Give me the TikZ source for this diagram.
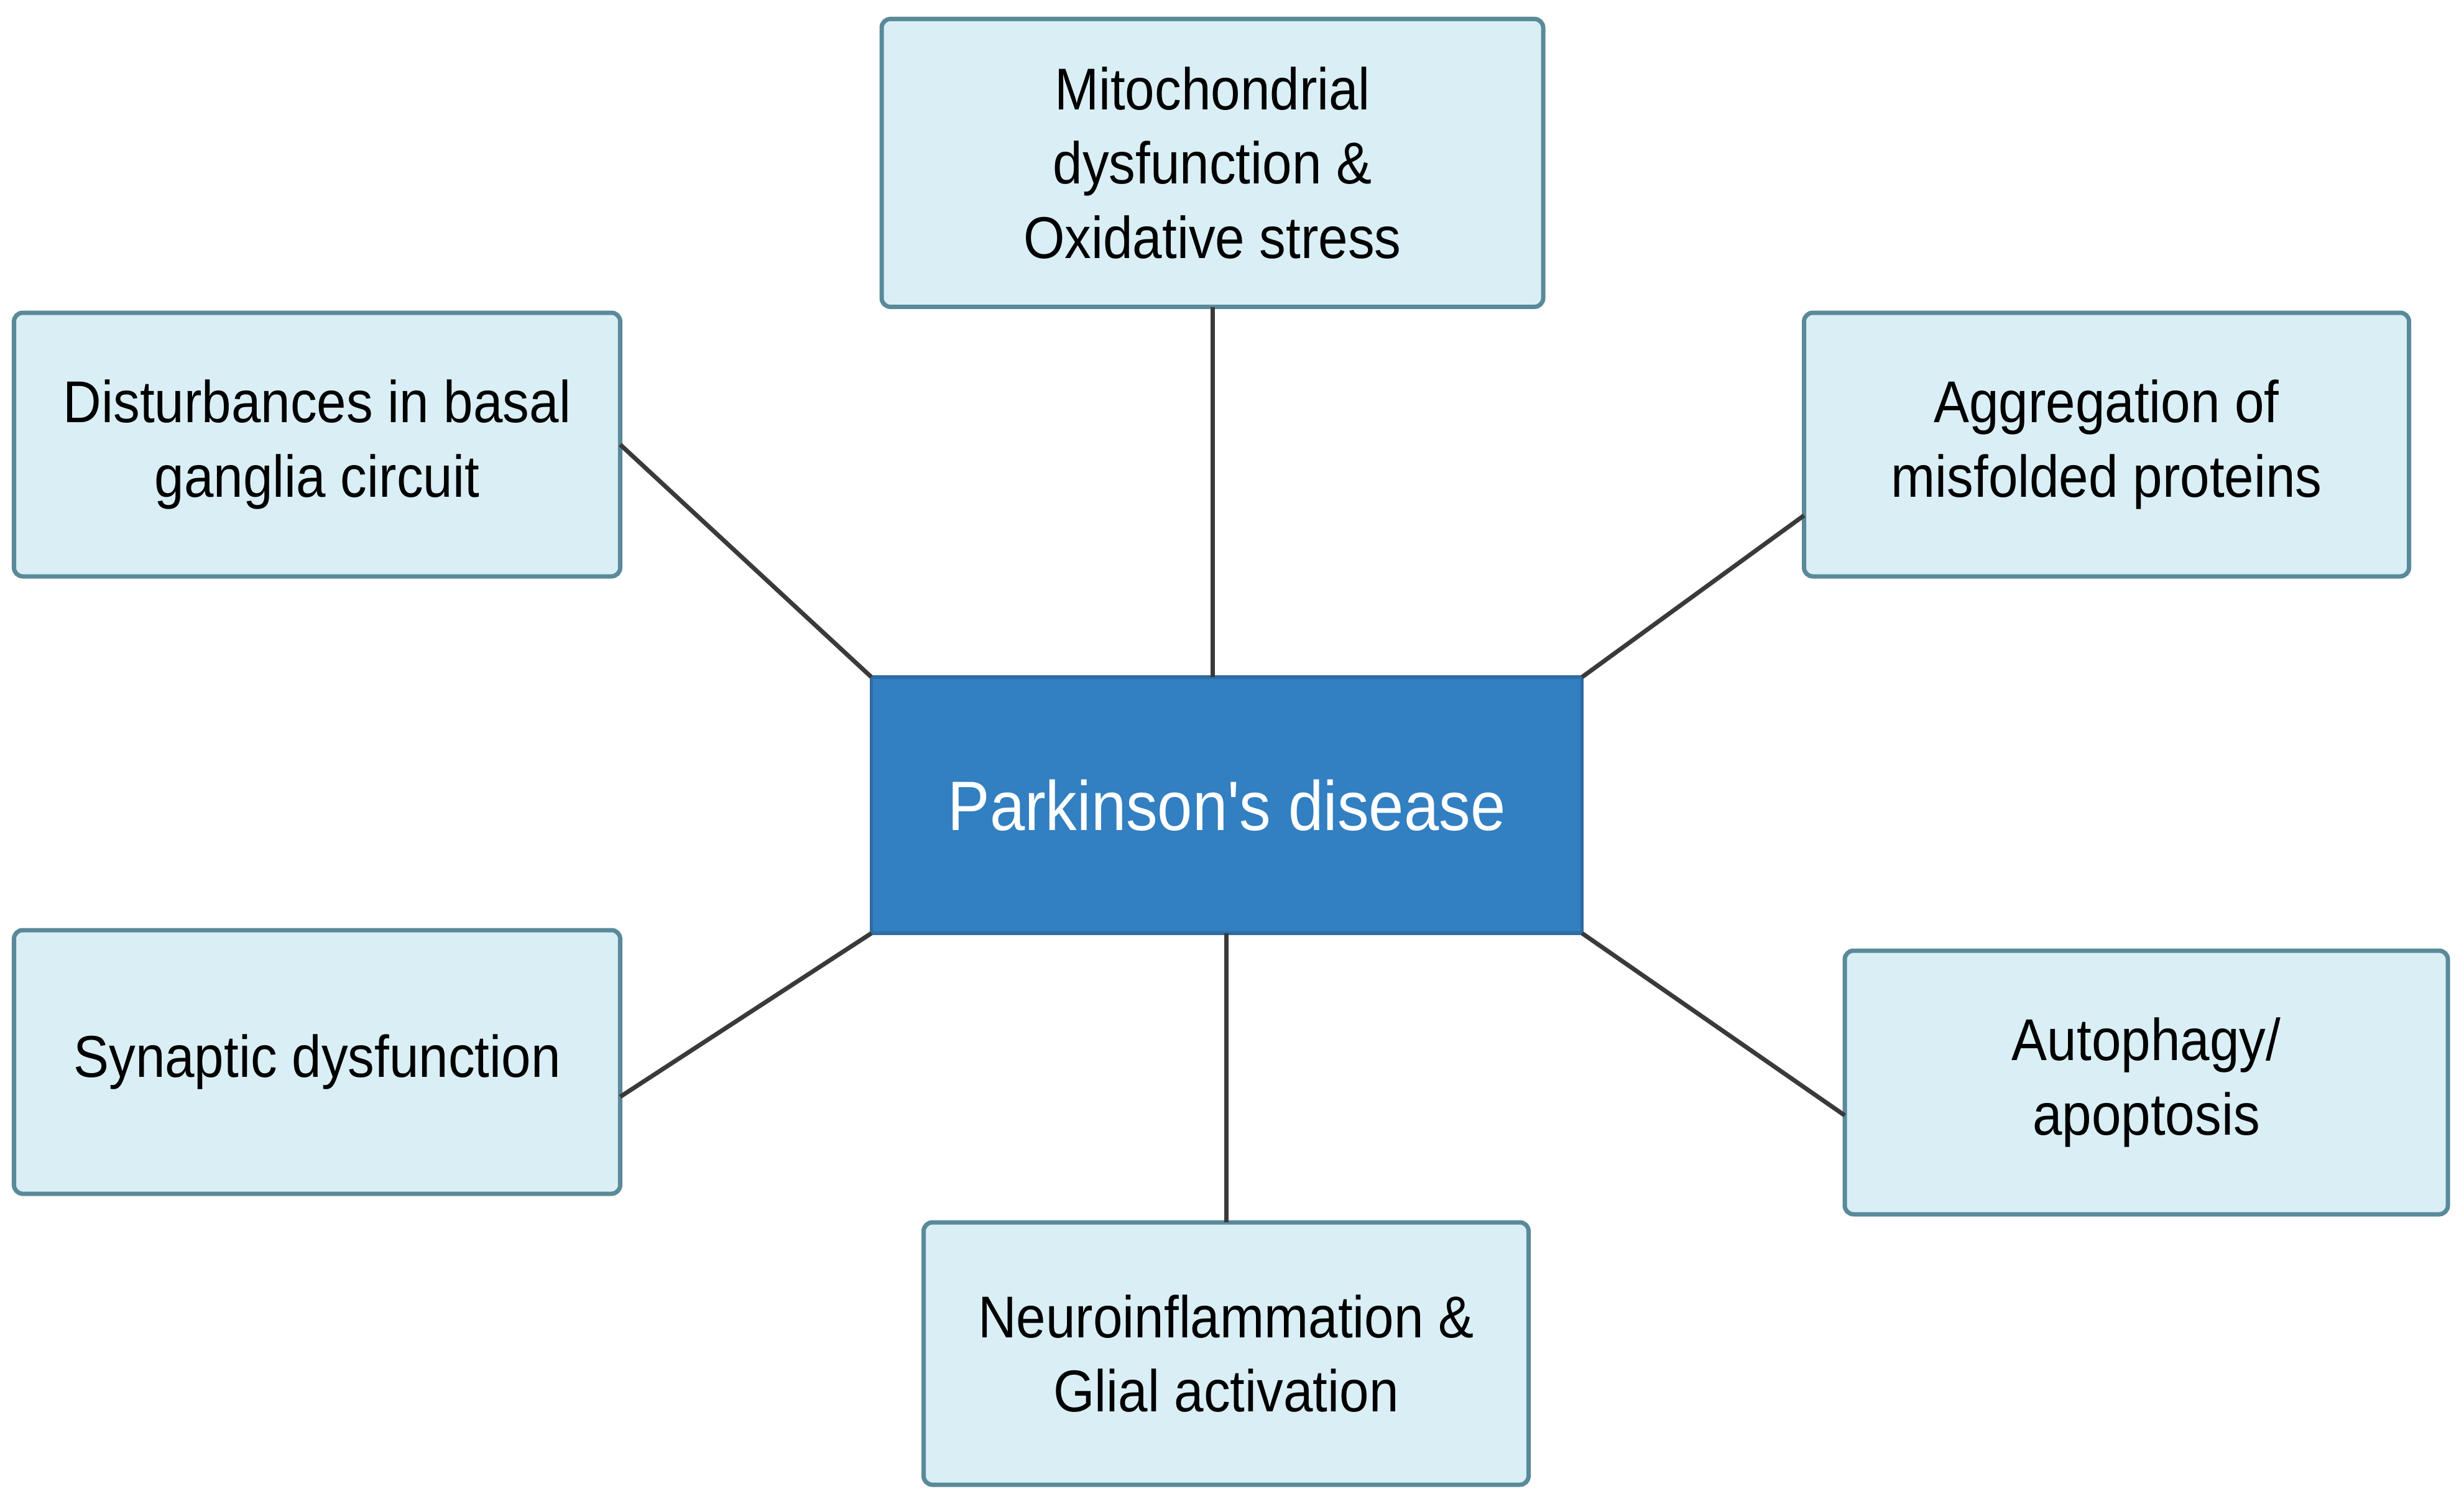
\documentclass[tikz,border=0pt]{standalone}
\usepackage{fontspec}
\setmainfont{Liberation Sans}[FakeStretch=0.9, Ligatures=TeXOff]
\usepackage{tikz}
\usetikzlibrary{positioning,calc}

\definecolor{boxfill}{HTML}{D9EFF5}
\definecolor{boxline}{HTML}{5A8A9A}
\definecolor{pdfill}{HTML}{327FC2}
\definecolor{pdline}{HTML}{2E6CA3}
\definecolor{link}{HTML}{3A3A3A}

\begin{document}
\begin{tikzpicture}[auto,
    factor/.style={draw=boxline, fill=boxfill, line width=2pt, rounded corners=4pt,
        align=center, inner sep=0pt, outer sep=0pt,
        font=\fontsize{27}{34}\selectfont},
    disease/.style={draw=pdline, fill=pdfill, line width=1.5pt, text=white,
        inner sep=0pt, outer sep=0pt, minimum width=11.43cm, minimum height=4.12cm,
        font=\fontsize{32}{38}\selectfont},
    link/.style={draw=link, line width=2pt}]
    \useasboundingbox (0,0) rectangle (39.63,-24.18);

    \node (pd) [disease] at (19.73,-12.95) {Parkinson's disease};

    \node (mito) [factor, minimum width=10.64cm, minimum height=4.63cm] at (19.50,-2.62)
        {Mitochondrial\\dysfunction \&\\Oxidative stress};
    \node (basal) [factor, minimum width=9.75cm, minimum height=4.24cm] at (5.10,-7.15)
        {Disturbances in basal\\ganglia circuit};
    \node (prot) [factor, minimum width=9.73cm, minimum height=4.24cm] at (33.88,-7.15)
        {Aggregation of\\misfolded proteins};
    \node (syn) [factor, minimum width=9.75cm, minimum height=4.24cm] at (5.10,-17.08)
        {Synaptic dysfunction};
    \node (auto) [factor, minimum width=9.70cm, minimum height=4.24cm] at (34.52,-17.41)
        {Autophagy/\\apoptosis};
    \node (glia) [factor, minimum width=9.73cm, minimum height=4.22cm] at (19.72,-21.77)
        {Neuroinflammation \&\\Glial activation};

    % connectors
    \draw [link] (mito.south) -- (mito.south |- pd.north);
    \draw [link] (basal.east) -- (pd.north west);
    \draw [link] (pd.north east) -- ([yshift=-1.14cm]prot.west);
    \draw [link] (pd.south west) -- ([yshift=-0.56cm]syn.east);
    \draw [link] (pd.south east) -- ([yshift=-0.53cm]auto.west);
    \draw [link] (glia.north |- pd.south) -- (glia.north);
\end{tikzpicture}
\end{document}
